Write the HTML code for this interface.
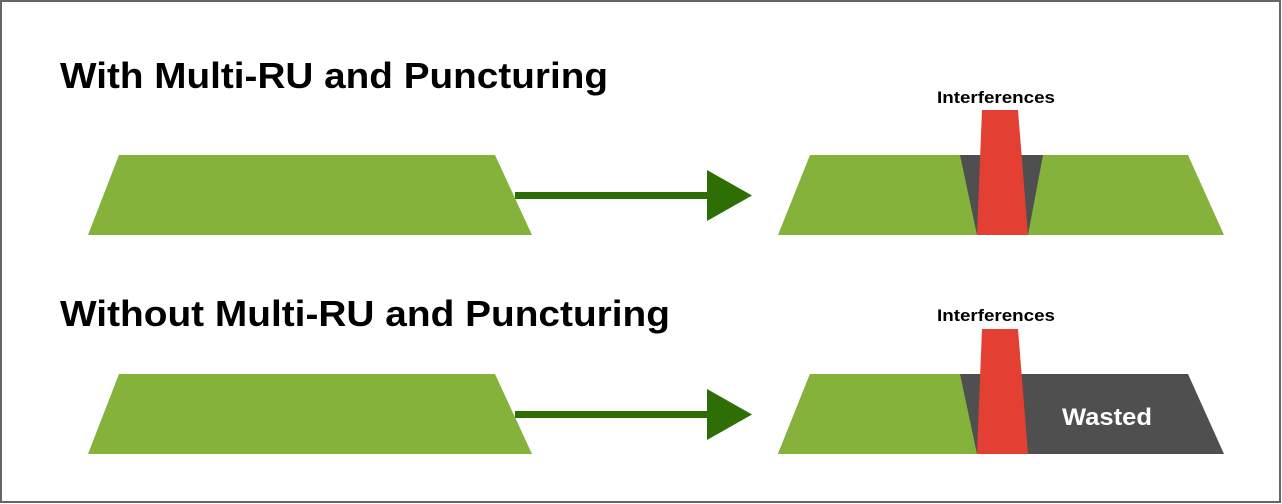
<!DOCTYPE html>
<html><head><style>
html,body{margin:0;padding:0;background:#fff;}
svg{display:block;}
</style></head><body>
<svg width="1282" height="504" viewBox="0 0 1282 504" xmlns="http://www.w3.org/2000/svg">
<rect x="1" y="1" width="1279" height="501" fill="#fff" stroke="#666" stroke-width="2"/>
<g font-family="Liberation Sans, sans-serif" font-weight="bold" fill="#000">
<text x="60" y="88" font-size="36" textLength="548" lengthAdjust="spacingAndGlyphs">With Multi-RU and Puncturing</text>
<text x="60" y="326" font-size="36" textLength="610" lengthAdjust="spacingAndGlyphs">Without Multi-RU and Puncturing</text>
<text x="996" y="103" font-size="17" text-anchor="middle" textLength="118" lengthAdjust="spacingAndGlyphs">Interferences</text>
<text x="996" y="321" font-size="17" text-anchor="middle" textLength="118" lengthAdjust="spacingAndGlyphs">Interferences</text>
</g>
<!-- row 1 -->
<polygon points="119,155 495,155 532,235 88,235" fill="#84b23a"/>
<rect x="515" y="192" width="195" height="7" fill="#2d6e05"/>
<polygon points="707,170 752,195.5 707,221" fill="#2d6e05"/>
<polygon points="810,155 1188,155 1224,235 778,235" fill="#84b23a"/>
<polygon points="960,155 1043,155 1028,235 977,235" fill="#4f4f4f"/>
<polygon points="982,110 1018,110 1028,235 977,235" fill="#e34033"/>
<!-- row 2 -->
<polygon points="119,374 495,374 532,454 88,454" fill="#84b23a"/>
<rect x="515" y="411" width="195" height="7" fill="#2d6e05"/>
<polygon points="707,389 752,414.5 707,440" fill="#2d6e05"/>
<polygon points="810,374 1188,374 1224,454 778,454" fill="#4f4f4f"/>
<polygon points="810,374 960,374 977,454 778,454" fill="#84b23a"/>
<polygon points="982,329 1018,329 1028,454 977,454" fill="#e34033"/>
<text x="1107" y="425" font-family="Liberation Sans, sans-serif" font-weight="bold" font-size="24" fill="#fff" text-anchor="middle" textLength="90" lengthAdjust="spacingAndGlyphs">Wasted</text>
</svg>
</body></html>
